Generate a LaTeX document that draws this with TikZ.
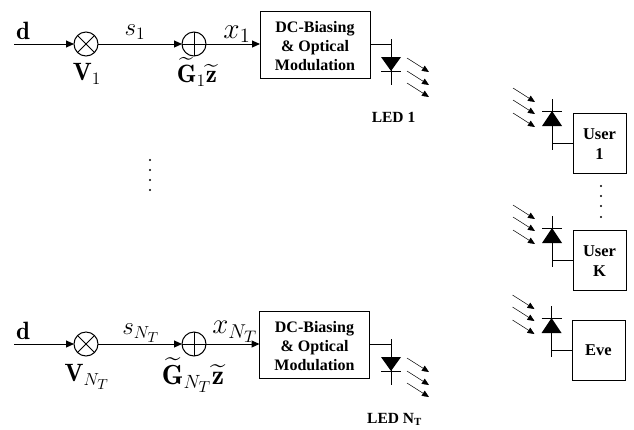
\documentclass[tikz,border=0pt]{standalone}
\usepackage{fontspec}
\usepackage{amsmath}
\usetikzlibrary{arrows.meta}

\newfontfamily\boxfont{Liberation Serif}

\tikzset{
    sumnode/.style={draw, circle, minimum size=24pt, inner sep=0pt, outer sep=0pt, line width=1pt},
    blockbox/.style={draw, minimum width=110pt, minimum height=67pt, align=center, inner sep=0pt, outer sep=0pt,
        line width=1pt, text height=52pt, font=\boxfont\bfseries\fontsize{16}{19}\selectfont},
    userbox/.style={draw, minimum width=53pt, minimum height=60pt, align=center, inner sep=0pt, outer sep=0pt,
        line width=1pt, font=\boxfont\bfseries\fontsize{16.5}{20}\selectfont},
    ledlabel/.style={inner sep=0pt, font=\boxfont\bfseries\fontsize{15.5}{17}\selectfont},
    mathlabel/.style={inner sep=0pt, font=\LARGE, scale=1.45},
    signal/.style={-{Triangle[length=8pt,width=7pt]}, line width=1pt},
    wire/.style={line width=1pt},
    lightray/.style={-{Triangle[length=7pt,width=6pt]}, line width=0.5pt}
}

% diode with its three rays: anchor is the point on the vertical wire
\newcommand{\ledout}[2]{
    \fill (#1-10,#2+13) -- (#1+10,#2+13) -- (#1,#2+27) -- cycle;
    \draw [wire] (#1-10,#2+27) -- (#1+10,#2+27);
    \draw [wire] (#1,#2-5) -- (#1,#2+41);
    \draw [lightray] (#1+16,#2+14) -- (#1+38,#2+28);
    \draw [lightray] (#1+16,#2+27) -- (#1+38,#2+41);
    \draw [lightray] (#1+16,#2+39) -- (#1+38,#2+53);
}
\newcommand{\ledin}[2]{
    \fill (#1-10,#2-17) -- (#1+10,#2-17) -- (#1,#2-32) -- cycle;
    \draw [wire] (#1-10,#2-32) -- (#1+10,#2-32);
    \draw [wire] (#1,#2-44) -- (#1,#2+7);
    \draw [lightray] (#1-39,#2-55) -- (#1-17,#2-41);
    \draw [lightray] (#1-39,#2-43) -- (#1-17,#2-29);
    \draw [lightray] (#1-39,#2-30) -- (#1-17,#2-16);
}

\begin{document}
\begin{tikzpicture}[x=1pt, y=-1pt]
\useasboundingbox (0,0) rectangle (634,429);

% Transmit chain 1
\coordinate (in1) at (14,44);
\node (mult1) [sumnode] at (86,44) {};
\node (add1) [sumnode] at (194,44) {};
\node (mod1) [blockbox] at (315,44.5) {DC-Biasing\\\& Optical\\Modulation};
\coordinate (led1) at (391,44);

\draw [signal] (in1) -- (mult1);
\draw [signal] (mult1) -- (add1);
\draw [signal] (add1) -- (mod1.west |- add1);
\draw [wire] (mod1.east |- led1) -- (led1);
\draw [wire] (mult1.north west) -- (mult1.south east);
\draw [wire] (mult1.north east) -- (mult1.south west);
\draw [wire] (add1.north) -- (add1.south);
\draw [wire] (add1.west) -- (add1.east);
\ledout{391}{44}

\node (d1) [mathlabel] at (23,31) {$\mathbf{d}$};
\node (s1) [mathlabel] at (135,32) {$s_1$};
\node (x1) [mathlabel, scale=1.17] at (237,34) {$x_1$};
\node (v1) [mathlabel] at (87,74) {$\mathbf{V}_1$};
\node (g1) [mathlabel] at (197,72) {$\widetilde{\mathbf{G}}_1\widetilde{\mathbf{z}}$};
\node (ledname1) [ledlabel] at (393.5,117) {LED 1};

% Transmit chain N_T
\coordinate (in2) at (14,344);
\node (mult2) [sumnode] at (86,344) {};
\node (add2) [sumnode] at (194,344) {};
\node (mod2) [blockbox] at (314.5,344.5) {DC-Biasing\\\& Optical\\Modulation};
\coordinate (led2) at (391,344);

\draw [signal] (in2) -- (mult2);
\draw [signal] (mult2) -- (add2);
\draw [signal] (add2) -- (mod2.west |- add2);
\draw [wire] (mod2.east |- led2) -- (led2);
\draw [wire] (mult2.north west) -- (mult2.south east);
\draw [wire] (mult2.north east) -- (mult2.south west);
\draw [wire] (add2.north) -- (add2.south);
\draw [wire] (add2.west) -- (add2.east);
\ledout{391}{344}

\node (d2) [mathlabel] at (23,331) {$\mathbf{d}$};
\node (s2) [mathlabel] at (141,333) {$s_{N_T}$};
\node (x2) [mathlabel, scale=1.15] at (235,332) {$x_{N_T}$};
\node (v2) [mathlabel] at (87,377) {$\mathbf{V}_{N_T}$};
\node (g2) [mathlabel, scale=1.1] at (193,375) {$\widetilde{\mathbf{G}}_{N_T}\widetilde{\mathbf{z}}$};
\node (ledname2) [ledlabel] at (394.5,419) {LED N\textsubscript{T}};

% Receivers
\node (user1) [userbox, text height=33pt] at (599.5,143) {User\\1};
\coordinate (rx1) at (552,143);
\draw [wire] (rx1) -- (user1.west);
\ledin{552}{143}

\node (userk) [userbox, text height=33pt] at (599.5,260) {User\\K};
\coordinate (rx2) at (552,260);
\draw [wire] (rx2) -- (userk.west);
\ledin{552}{260}

\node (eve) [userbox] at (598.5,350) {Eve};
\coordinate (rx3) at (551.5,350);
\draw [wire] (rx3) -- (eve.west);
\ledin{551.5}{350}

% Dots
\foreach \y in {160,170,180,190}
    \fill (150,\y) circle (1.2pt);
\foreach \y in {186,196,206,217}
    \fill (601,\y) circle (1.2pt);

\end{tikzpicture}
\end{document}
